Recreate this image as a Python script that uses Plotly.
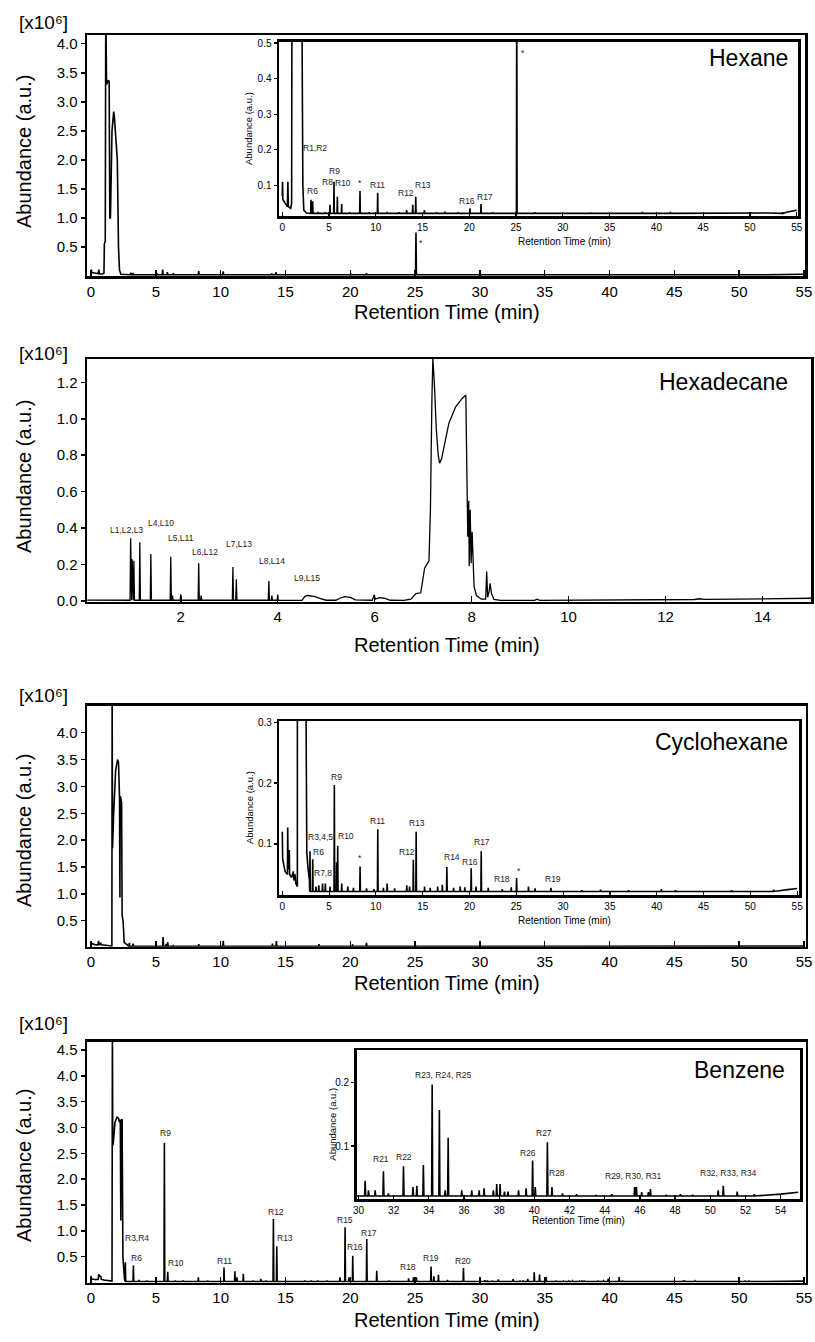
import plotly.graph_objects as go

W, H = 815, 1342
FONT = "Liberation Sans"

# ---------------- DATA ----------------
# Hexane (same chromatogram for main plot and inset)
hex_broad_t = [0.0, 0.03, 0.06, 0.3, 0.55, 0.6, 0.65, 0.9, 1.0, 1.03, 1.1, 1.14, 1.2, 1.34, 1.4, 1.45, 1.5, 1.62, 1.75, 1.8, 2.03, 2.12, 2.2, 2.3, 2.6, 52.0, 54.0, 55.0]
hex_broad_y = [0.07, 0.11, 0.06, 0.05, 0.04, 0.11, 0.04, 0.035, 0.05, 0.55, 0.6, 4.6, 3.3, 3.37, 3.35, 1.0, 1.0, 2.5, 2.83, 2.75, 2.0, 0.5, 0.1, 0.03, 0.022, 0.022, 0.025, 0.03]
hex_peak_t = [3.07, 3.25, 3.85, 4.6, 5.1, 5.53, 5.89, 6.35, 7.2, 8.31, 9.3, 10.2, 11.2, 12.5, 13.3, 13.95, 14.27, 15.2, 16.5, 17.4, 18.8, 20.07, 21.25, 22.5, 25.07, 27.0, 33.0, 38.5, 41.5, 53.5]
hex_peak_h = [0.059, 0.055, 0.025, 0.024, 0.045, 0.11, 0.068, 0.047, 0.024, 0.084, 0.024, 0.079, 0.025, 0.024, 0.03, 0.045, 0.068, 0.03, 0.024, 0.026, 0.024, 0.035, 0.047, 0.024, 0.75, 0.024, 0.023, 0.025, 0.025, 0.024]
hex_base = 0.021
hex_lab_text = ["R1,R2", "R6", "R8", "R9", "R10", "*", "R11", "R12", "R13", "R16", "R17", "*"]
hex_lab_t = [3.5, 3.27, 4.86, 5.56, 6.52, 8.31, 10.2, 13.24, 15.0, 19.7, 21.7, 25.7]
hex_lab_y = [0.205, 0.084, 0.108, 0.139, 0.106, 0.106, 0.1, 0.078, 0.1, 0.057, 0.068, 0.472]

# Hexadecane
hexd_broad_t = [0.07, 0.9, 4.5, 4.56, 4.62, 4.75, 4.9, 5.0, 5.2, 5.28, 5.38, 5.5, 5.6, 5.95, 5.99, 6.01, 6.1, 6.2, 6.32, 6.6, 6.75, 6.85, 6.95, 7.0, 7.03, 7.12, 7.15, 7.18, 7.2, 7.23, 7.27, 7.31, 7.34, 7.38, 7.43, 7.53, 7.67, 7.8, 7.88, 7.9, 7.92, 7.94, 7.95, 7.97, 7.99, 8.01, 8.03, 8.05, 8.1, 8.2, 8.29, 8.31, 8.33, 8.36, 8.38, 8.41, 8.46, 8.6, 9.3, 9.35, 9.4, 11.0, 12.6, 12.7, 12.8, 13.5, 15.0]
hexd_broad_y = [0.005, 0.004, 0.003, 0.025, 0.03, 0.025, 0.012, 0.004, 0.004, 0.015, 0.024, 0.02, 0.006, 0.004, 0.035, 0.01, 0.018, 0.015, 0.004, 0.003, 0.01, 0.04, 0.045, 0.12, 0.18, 0.22, 0.5, 1.1, 1.33, 1.2, 0.95, 0.8, 0.756, 0.78, 0.847, 0.975, 1.066, 1.11, 1.13, 0.8, 0.353, 0.55, 0.19, 0.5, 0.207, 0.38, 0.2, 0.078, 0.03, 0.01, 0.01, 0.161, 0.02, 0.05, 0.097, 0.04, 0.008, 0.003, 0.003, 0.01, 0.003, 0.004, 0.008, 0.012, 0.009, 0.01, 0.015]
hexd_peak_t = [0.966, 0.998, 1.033, 1.156, 1.383, 1.794, 1.83, 2.0, 2.37, 2.42, 3.076, 3.146, 3.817, 3.88, 4.0]
hexd_peak_h = [0.344, 0.229, 0.221, 0.322, 0.258, 0.243, 0.03, 0.037, 0.207, 0.03, 0.187, 0.119, 0.11, 0.03, 0.035]
hexd_base = 0.004
hexd_lab_text = ["L1,L2,L3", "L4,L10", "L5,L11", "L6,L12", "L7,L13", "L8,L14", "L9,L15"]
hexd_lab_t = [0.88, 1.6, 2.0, 2.51, 3.2, 3.88, 4.6]
hexd_lab_y = [0.39, 0.43, 0.344, 0.267, 0.311, 0.22, 0.125]

# Cyclohexane
cyc_broad_t = [0.0, 0.04, 0.3, 0.55, 0.58, 0.62, 0.72, 0.75, 0.78, 1.0, 1.18, 1.25, 1.36, 1.45, 1.58, 1.61, 1.63, 1.66, 1.75, 1.9, 2.05, 2.12, 2.2, 2.23, 2.25, 2.28, 2.36, 2.4, 2.47, 2.52, 2.56, 2.62, 2.75, 2.9, 52.0, 54.0, 55.0]
cyc_broad_y = [0.12, 0.075, 0.055, 0.05, 0.127, 0.06, 0.06, 0.09, 0.05, 0.045, 0.055, 0.04, 0.05, 0.035, 0.03, 0.03, 4.8, 1.85, 2.5, 3.3, 3.5, 3.45, 2.8, 0.93, 2.8, 2.8, 2.7, 0.6, 0.5, 0.3, 0.09, 0.085, 0.06, 0.04, 0.022, 0.025, 0.027]
cyc_peak_t = [2.96, 3.25, 3.6, 3.9, 4.3, 4.6, 5.1, 5.56, 5.8, 5.92, 6.35, 7.0, 7.6, 8.31, 9.0, 9.8, 10.2, 10.8, 11.2, 12.0, 13.3, 13.6, 14.0, 14.3, 15.2, 15.8, 16.6, 17.1, 17.58, 18.3, 19.0, 19.5, 20.18, 20.7, 21.25, 22.0, 23.5, 24.46, 25.03, 26.3, 27.0, 28.7, 32.0, 34.0, 37.0, 40.5, 42.0, 48.0, 52.5]
cyc_peak_h = [0.088, 0.075, 0.03, 0.032, 0.035, 0.035, 0.03, 0.197, 0.07, 0.097, 0.035, 0.03, 0.028, 0.063, 0.027, 0.026, 0.124, 0.028, 0.035, 0.027, 0.032, 0.03, 0.074, 0.12, 0.03, 0.028, 0.03, 0.033, 0.062, 0.028, 0.03, 0.029, 0.06, 0.03, 0.088, 0.028, 0.026, 0.029, 0.044, 0.03, 0.027, 0.028, 0.024, 0.025, 0.024, 0.026, 0.024, 0.024, 0.025]
cyc_base = 0.022
cyc_lab_text = ["R3,4,5", "R6", "R7,8", "R9", "R10", "*", "R11", "R12", "R13", "R14", "R16", "R17", "R18", "*", "R19"]
cyc_lab_t = [4.03, 3.85, 4.39, 5.74, 6.78, 8.31, 10.2, 13.3, 14.44, 18.12, 20.07, 21.36, 23.46, 25.24, 28.88]
cyc_lab_y = [0.112, 0.086, 0.052, 0.21, 0.113, 0.077, 0.138, 0.086, 0.134, 0.078, 0.071, 0.104, 0.042, 0.056, 0.042]

# Benzene
ben_broad_t = [0.0, 0.04, 0.3, 0.55, 0.6, 0.65, 0.75, 0.8, 1.0, 1.4, 1.62, 1.65, 1.68, 1.72, 1.85, 2.0, 2.12, 2.2, 2.26, 2.3, 2.34, 2.4, 2.46, 2.52, 2.58, 52.0, 54.0, 55.0]
ben_broad_y = [0.13, 0.07, 0.06, 0.06, 0.16, 0.12, 0.12, 0.06, 0.05, 0.04, 0.03, 5.0, 2.65, 2.7, 3.1, 3.2, 3.18, 3.1, 3.15, 1.2, 3.15, 3.15, 0.5, 0.2, 0.08, 0.021, 0.024, 0.027]
ben_peak_t = [2.65, 3.27, 3.7, 4.3, 5.66, 5.92, 6.5, 7.1, 8.28, 9.0, 10.26, 11.1, 11.26, 11.75, 12.5, 13.1, 13.5, 14.07, 14.33, 16.5, 17.0, 17.5, 18.2, 19.2, 19.6, 19.9, 20.19, 21.27, 22.04, 23.0, 24.5, 24.87, 25.1, 26.23, 26.45, 26.8, 27.5, 28.73, 30.38, 30.57, 30.95, 31.42, 31.7, 32.56, 33.1, 33.32, 33.69, 34.19, 34.6, 34.93, 35.1, 35.87, 36.44, 36.86, 37.14, 37.67, 37.86, 38.05, 38.3, 38.5, 39.1, 39.53, 39.9, 40.05, 40.74, 41.0, 41.6, 42.4, 43.5, 44.4, 45.7, 45.8, 46.1, 46.48, 46.6, 47.5, 48.3, 49.0, 50.45, 50.74, 51.53, 52.5]
ben_peak_h = [0.39, 0.33, 0.05, 0.04, 2.7, 0.21, 0.04, 0.04, 0.1, 0.04, 0.29, 0.22, 0.1, 0.17, 0.04, 0.07, 0.04, 1.23, 0.7, 0.04, 0.035, 0.04, 0.035, 0.1, 1.07, 0.1, 0.52, 0.84, 0.23, 0.04, 0.08, 0.1, 0.1, 0.31, 0.12, 0.15, 0.05, 0.28, 0.045, 0.03, 0.03, 0.06, 0.025, 0.068, 0.035, 0.037, 0.07, 0.197, 0.157, 0.03, 0.113, 0.03, 0.03, 0.03, 0.033, 0.03, 0.04, 0.04, 0.028, 0.028, 0.03, 0.033, 0.077, 0.035, 0.106, 0.035, 0.025, 0.024, 0.022, 0.024, 0.035, 0.035, 0.027, 0.027, 0.032, 0.023, 0.024, 0.023, 0.03, 0.037, 0.028, 0.024]
ben_base = 0.021
ben_main_lab_text = ["R3,R4", "R6", "R9", "R10", "R11", "R12", "R13", "R15", "R16", "R17", "R18", "R19", "R20"]
ben_main_lab_t = [3.52, 3.52, 5.76, 6.56, 10.29, 14.27, 14.97, 19.6, 20.37, 21.45, 24.48, 26.23, 28.73]
ben_main_lab_y = [0.87, 0.47, 2.9, 0.37, 0.42, 1.36, 0.87, 1.21, 0.68, 0.96, 0.31, 0.47, 0.42]
ben_in_lab_text = ["R21", "R22", "R23, R24, R25", "R26", "R27", "R28", "R29, R30, R31", "R32, R33, R34"]
ben_in_lab_t = [31.29, 32.6, 34.83, 39.62, 40.57, 41.27, 45.63, 50.99]
ben_in_lab_y = [0.079, 0.083, 0.212, 0.089, 0.121, 0.057, 0.053, 0.057]

solvents = ["Hexane", "Hexadecane", "Cyclohexane", "Benzene"]
time_ticks_55 = [0, 5, 10, 15, 20, 25, 30, 35, 40, 45, 50, 55]
time_ticks_15 = [2, 4, 6, 8, 10, 12, 14]
time_ticks_inset4 = [30, 32, 34, 36, 38, 40, 42, 44, 46, 48, 50, 52, 54]
abund_ticks_main1 = [0.5, 1.0, 1.5, 2.0, 2.5, 3.0, 3.5, 4.0]
abund_ticks_hexd = [0.0, 0.2, 0.4, 0.6, 0.8, 1.0, 1.2]
abund_ticks_main4 = [0.5, 1.0, 1.5, 2.0, 2.5, 3.0, 3.5, 4.0, 4.5]
abund_ticks_in1 = [0.1, 0.2, 0.3, 0.4, 0.5]
abund_ticks_in3 = [0.1, 0.2, 0.3]
abund_ticks_in4 = [0.1, 0.2]


# ---------------- helpers ----------------
def build(bt, by, pt, ph, base, hw):
    pts = list(zip(bt, by))
    for t, h in zip(pt, ph):
        pts += [(t - hw, base), (t, h), (t + hw, base)]
    pts.sort(key=lambda p: p[0])
    return [p[0] for p in pts], [p[1] for p in pts]


def dx(a, b):
    return [a / W, b / W]


def dy(top, bottom):
    return [1 - bottom / H, 1 - top / H]


def PX(x):
    return x / W


def PY(y):
    return 1 - y / H


hex_x, hex_y = build(hex_broad_t, hex_broad_y, hex_peak_t, hex_peak_h, hex_base, 0.035)
hexd_x, hexd_y = build(hexd_broad_t, hexd_broad_y, hexd_peak_t, hexd_peak_h, hexd_base, 0.012)
cyc_x, cyc_y = build(cyc_broad_t, cyc_broad_y, cyc_peak_t, cyc_peak_h, cyc_base, 0.035)
ben_x, ben_y = build(ben_broad_t, ben_broad_y, ben_peak_t, ben_peak_h, ben_base, 0.03)

fig = go.Figure()


def add_line(x, y, ax, w):
    fig.add_trace(go.Scatter(x=x, y=y, mode="lines", xaxis="x" + ax, yaxis="y" + ax,
                             line=dict(color="black", width=w), hoverinfo="skip",
                             showlegend=False))


add_line(hex_x, hex_y, "", 1.6)
add_line(hex_x, hex_y, "2", 1.6)
add_line(hexd_x, hexd_y, "3", 1.3)
add_line(cyc_x, cyc_y, "4", 1.6)
add_line(cyc_x, cyc_y, "5", 1.6)
add_line(ben_x, ben_y, "6", 1.6)
add_line(ben_x, ben_y, "7", 1.6)

base_ax = dict(showline=True, linecolor="black", mirror=True, showgrid=False,
               zeroline=False, tickcolor="black", fixedrange=True, automargin=False)


def main_x(rng, dom, anchor, tv):
    return dict(base_ax, range=rng, domain=dom, anchor=anchor, tickvals=tv,
                ticks="inside", ticklen=6, tickwidth=1.5, linewidth=2.5,
                tickfont=dict(family=FONT, size=15, color="black"))


def main_y(rng, dom, anchor, tv):
    return dict(base_ax, range=rng, domain=dom, anchor=anchor, tickvals=tv,
                tickformat=".1f", ticks="outside", ticklen=4, tickwidth=1.5,
                linewidth=2.5, tickfont=dict(family=FONT, size=15, color="black"))


def in_x(rng, dom, anchor, tv):
    return dict(base_ax, range=rng, domain=dom, anchor=anchor, tickvals=tv,
                ticks="inside", ticklen=4, tickwidth=1.2, linewidth=2.5,
                tickfont=dict(family=FONT, size=10, color="black"))


def in_y(rng, dom, anchor, tv):
    return dict(base_ax, range=rng, domain=dom, anchor=anchor, tickvals=tv,
                tickformat=".1f", ticks="outside", ticklen=3, tickwidth=1.2,
                linewidth=2.5, tickfont=dict(family=FONT, size=10, color="black"))


fig.update_layout(
    template="none",
    width=W, height=H, margin=dict(l=0, r=0, t=0, b=0, autoexpand=False),
    paper_bgcolor="white", plot_bgcolor="white", showlegend=False,
    font=dict(family=FONT, color="black"),
    xaxis=main_x([-0.309, 55.08], dx(87, 805), "y", time_ticks_55),
    yaxis=main_y([0.0, 4.15], dy(35, 276), "x", abund_ticks_main1),
    xaxis2=in_x([-0.35, 55.14], dx(279, 798), "y2", time_ticks_55),
    yaxis2=in_y([0.0137, 0.5037], dy(41.7, 216), "x2", abund_ticks_in1),
    xaxis3=main_x([0.066, 15.0], dx(87, 811), "y3", time_ticks_15),
    yaxis3=main_y([-0.004, 1.328], dy(359, 601.7), "x3", abund_ticks_hexd),
    xaxis4=main_x([-0.309, 55.13], dx(87, 805.7), "y4", time_ticks_55),
    yaxis4=main_y([0.016, 4.503], dy(705.7, 946.7), "x4", abund_ticks_main1),
    xaxis5=in_x([-0.32, 55.2], dx(279.3, 799), "y5", time_ticks_55),
    yaxis5=in_y([0.0162, 0.302], dy(721, 895), "x5", abund_ticks_in3),
    xaxis6=main_x([-0.309, 55.13], dx(87, 805.7), "y6", time_ticks_55),
    yaxis6=main_y([-0.003, 4.66], dy(1041.7, 1282.7), "x6", abund_ticks_main4),
    xaxis7=in_x([29.9, 55.1], dx(356.7, 800), "y7", time_ticks_inset4),
    yaxis7=in_y([0.0163, 0.2516], dy(1050, 1199), "x7", abund_ticks_in4),
)

ann = []
LAB = dict(family=FONT, size=8.5, color="#222222")


def labels(texts, ts, ys, ax):
    for s, t, y in zip(texts, ts, ys):
        ann.append(dict(text=s, x=t, y=y, xref="x" + ax, yref="y" + ax,
                        showarrow=False, xanchor="center", yanchor="middle", font=LAB))


labels(hex_lab_text, hex_lab_t, hex_lab_y, "2")
labels(["*"], [25.44], [0.57], "")
labels(hexd_lab_text, hexd_lab_t, hexd_lab_y, "3")
labels(cyc_lab_text, cyc_lab_t, cyc_lab_y, "5")
labels(ben_main_lab_text, ben_main_lab_t, ben_main_lab_y, "6")
labels(ben_in_lab_text, ben_in_lab_t, ben_in_lab_y, "7")


def paper_text(s, x, y, size, angle=0, xanchor="center", family=FONT):
    ann.append(dict(text=s, x=PX(x), y=PY(y), xref="paper", yref="paper",
                    showarrow=False, xanchor=xanchor, yanchor="middle",
                    textangle=angle, font=dict(family=family, size=size, color="black")))


# solvent names
for name, (x, y) in zip(solvents, [(790, 58), (790, 382), (790, 742), (787, 1070)]):
    paper_text(name, x, y, 23, xanchor="right")

# scale labels, axis titles
for yy in [22, 353, 695, 1023]:
    paper_text("[x10\u2076]", 17, yy, 19, xanchor="left",
               family="Liberation Sans, DejaVu Sans")
for yy in [152, 477, 831, 1166]:
    paper_text("Abundance (a.u.)", 24, yy, 20, angle=-90)
for yy in [312, 645, 983, 1320]:
    paper_text("Retention Time (min)", 447, yy, 20)
for x, yy in [(249, 129), (249, 808), (331.7, 1124)]:
    paper_text("Abundance (a.u.)", x, yy, 9.5, angle=-90)
for x, yy in [(564, 241), (564, 920), (578.3, 1220)]:
    paper_text("Retention Time (min)", x, yy, 10)

fig.update_layout(annotations=ann)
fig.write_html("out.html", config={"displayModeBar": False, "staticPlot": True},
               post_script="document.body.style.margin='0';document.body.style.overflow='hidden';")
